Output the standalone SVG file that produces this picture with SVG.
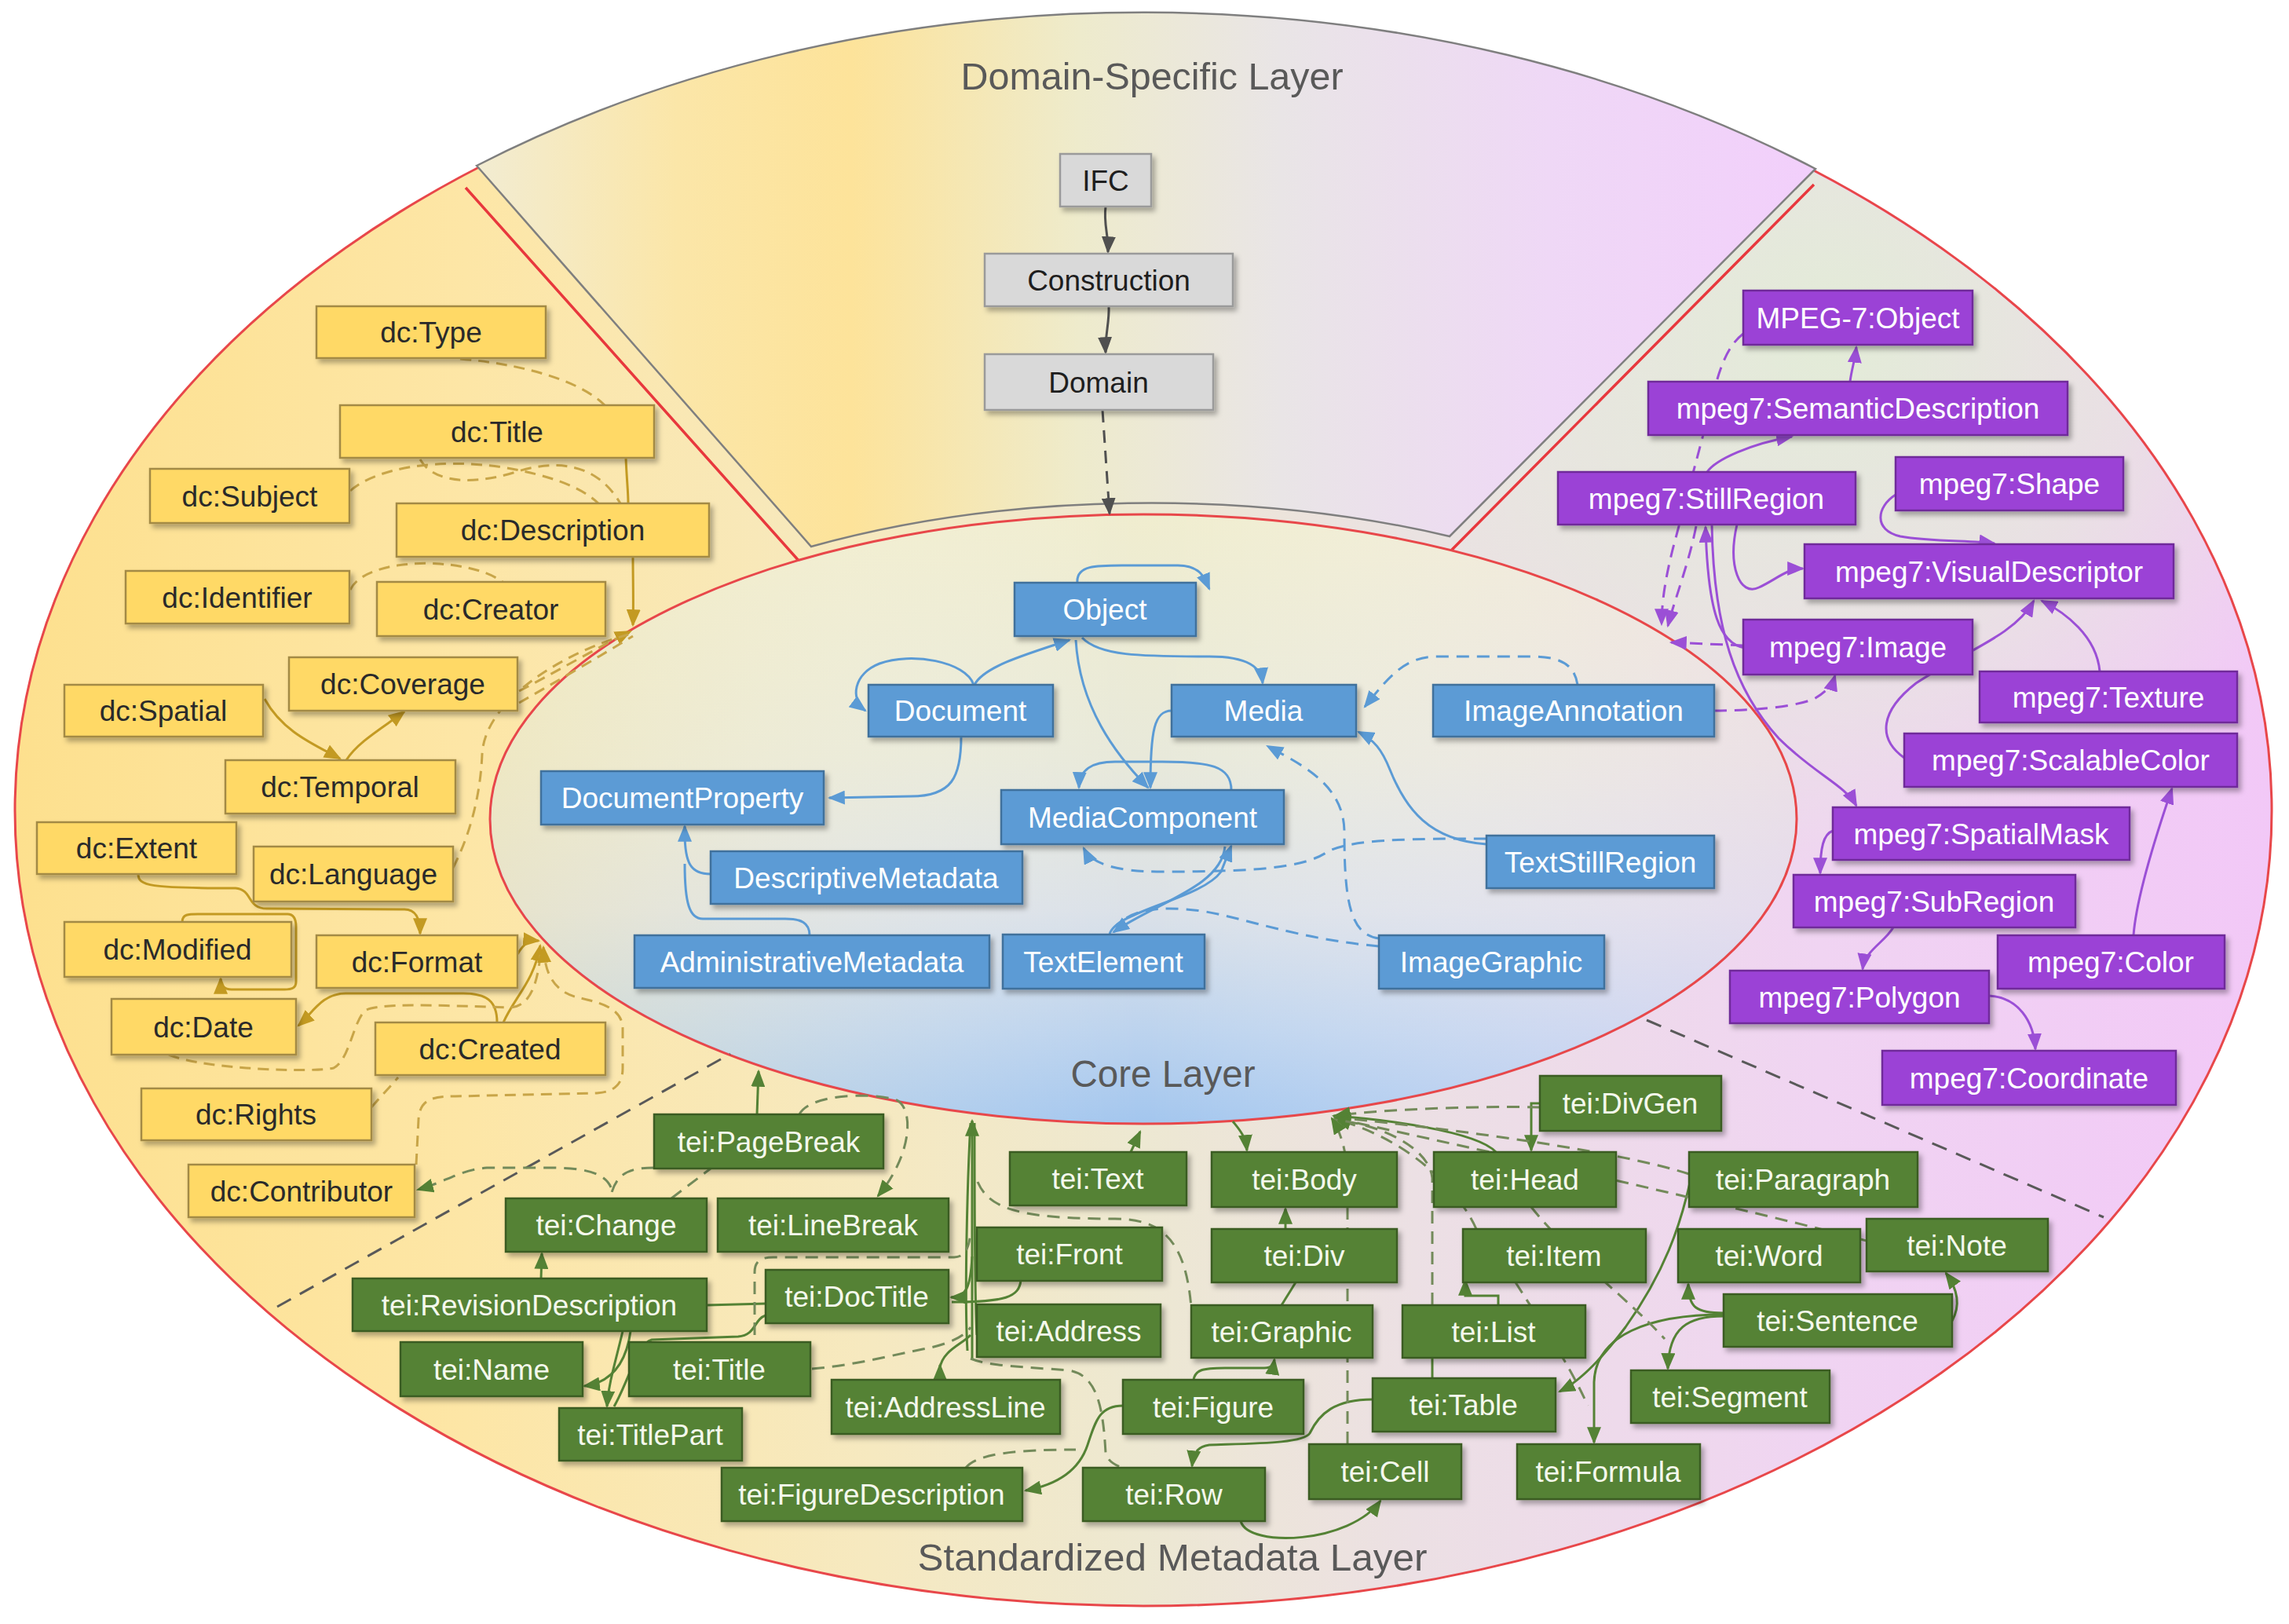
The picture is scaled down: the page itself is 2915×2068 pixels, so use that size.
<svg xmlns="http://www.w3.org/2000/svg" width="2915" height="2068" viewBox="0 0 2915 2068">
<defs>
<linearGradient id="gOuter" gradientUnits="userSpaceOnUse" x1="19" y1="0" x2="2893" y2="0">
<stop offset="0" stop-color="#fde08e"/><stop offset="0.2" stop-color="#fde6a6"/><stop offset="0.38" stop-color="#f6e9c0"/><stop offset="0.5" stop-color="#ede8d2"/><stop offset="0.62" stop-color="#ece0e4"/><stop offset="0.8" stop-color="#f0d4f2"/><stop offset="1" stop-color="#f2c8f7"/>
</linearGradient>
<radialGradient id="gGreen" gradientUnits="userSpaceOnUse" cx="2330" cy="430" r="700">
<stop offset="0" stop-color="#e2edd6" stop-opacity="0.95"/><stop offset="0.55" stop-color="#e4ecd9" stop-opacity="0.6"/><stop offset="1" stop-color="#e4ecd9" stop-opacity="0"/>
</radialGradient>
<linearGradient id="gWedge" gradientUnits="userSpaceOnUse" x1="607" y1="0" x2="2312" y2="0">
<stop offset="0" stop-color="#f2ecd2"/><stop offset="0.15" stop-color="#fbe6a8"/><stop offset="0.28" stop-color="#fde39a"/><stop offset="0.45" stop-color="#eeebcc"/><stop offset="0.6" stop-color="#e9e5e6"/><stop offset="0.8" stop-color="#efd8f6"/><stop offset="1" stop-color="#f2cffb"/>
</linearGradient>
<linearGradient id="gCore" gradientUnits="userSpaceOnUse" x1="0" y1="655" x2="0" y2="1431">
<stop offset="0" stop-color="#f0edcf"/><stop offset="0.4" stop-color="#e8e9da"/><stop offset="0.65" stop-color="#dbe1e8"/><stop offset="0.85" stop-color="#bcd3ee"/><stop offset="1" stop-color="#a3c6ee"/>
</linearGradient>
<linearGradient id="gCoreH" gradientUnits="userSpaceOnUse" x1="624" y1="0" x2="2288" y2="0">
<stop offset="0" stop-color="#f6e6a6" stop-opacity="0.45"/><stop offset="0.5" stop-color="#ffffff" stop-opacity="0"/><stop offset="1" stop-color="#efd6f2" stop-opacity="0.5"/>
</linearGradient>
<filter id="sh" x="-10%" y="-20%" width="130%" height="170%">
<feDropShadow dx="4" dy="5" stdDeviation="3" flood-color="#000" flood-opacity="0.3"/>
</filter>
<marker id="aGold" viewBox="0 0 10 10" refX="9" refY="5" markerWidth="22" markerHeight="18" markerUnits="userSpaceOnUse" orient="auto" preserveAspectRatio="none"><path d="M0,0 L10,5 L0,10 z" fill="#c39a22"/></marker>
<marker id="aBlue" viewBox="0 0 10 10" refX="9" refY="5" markerWidth="22" markerHeight="18" markerUnits="userSpaceOnUse" orient="auto" preserveAspectRatio="none"><path d="M0,0 L10,5 L0,10 z" fill="#5b9bd5"/></marker>
<marker id="aPurple" viewBox="0 0 10 10" refX="9" refY="5" markerWidth="22" markerHeight="18" markerUnits="userSpaceOnUse" orient="auto" preserveAspectRatio="none"><path d="M0,0 L10,5 L0,10 z" fill="#9b4fd6"/></marker>
<marker id="aGreen" viewBox="0 0 10 10" refX="9" refY="5" markerWidth="22" markerHeight="18" markerUnits="userSpaceOnUse" orient="auto" preserveAspectRatio="none"><path d="M0,0 L10,5 L0,10 z" fill="#548235"/></marker>
<marker id="aGray" viewBox="0 0 10 10" refX="9" refY="5" markerWidth="22" markerHeight="18" markerUnits="userSpaceOnUse" orient="auto" preserveAspectRatio="none"><path d="M0,0 L10,5 L0,10 z" fill="#505050"/></marker>
</defs>
<style>
.lbl{font-family:"Liberation Sans",Arial,sans-serif;font-size:48px;fill:#595959;text-anchor:middle}
.n text{font-family:"Liberation Sans",Arial,sans-serif;font-size:37px;text-anchor:middle}
.n rect{stroke-width:2.5;filter:url(#sh)}
.gy rect{fill:#d9d9d9;stroke:#9a9a9a}
.gy text{fill:#1e1e1e}
.y rect{fill:#ffd966;stroke:#a38a45}
.y text{fill:#2a2a2a}
.b rect{fill:#5b9bd5;stroke:#41719c}
.b text{fill:#ffffff}
.p rect{fill:#9b42d6;stroke:#6f2c9a}
.p text{fill:#ffffff}
.t rect{fill:#548235;stroke:#3a5c24}
.t text{fill:#f4f8ec}
.c path{fill:none;stroke-width:3}
.ck{stroke:#505050}
.cg{stroke:#c39a22}
.cgd{stroke:#c8a548;stroke-dasharray:14 9}
.cb{stroke:#5b9bd5}
.cbd{stroke:#5b9bd5;stroke-dasharray:16 10}
.cp{stroke:#9b4fd6}
.cpd{stroke:#9b4fd6;stroke-dasharray:16 10}
.ct{stroke:#548235}
.ctd{stroke:#738a5a;stroke-dasharray:16 10}
.sep{fill:none;stroke:#595959;stroke-width:3;stroke-dasharray:20 13}
</style>
<rect x="0" y="0" width="2915" height="2068" fill="#ffffff"/>
<g id="layers">
<ellipse cx="1456" cy="1032" rx="1437" ry="1013" fill="url(#gOuter)" stroke="#e8474a" stroke-width="3"/>
<ellipse cx="1456" cy="1032" rx="1435" ry="1011" fill="url(#gGreen)"/>
<path d="M593 239 L1019 716 M2310 235 L1846 703" stroke="#e8383d" stroke-width="3.5" fill="none"/>
<path id="domain-layer" d="M607 211 A1440 1016 0 0 1 2312 215 L1846 683 A850 400 0 0 0 1033 696 Z" fill="url(#gWedge)" stroke="#7f7f7f" stroke-width="2.5"/>
<ellipse id="core-layer" cx="1456" cy="1043" rx="832" ry="388" fill="url(#gCore)" stroke="#e8474a" stroke-width="3"/>
<ellipse cx="1456" cy="1043" rx="830" ry="386" fill="url(#gCoreH)"/>
<path class="sep" d="M353 1664 L930 1342"/>
<path class="sep" d="M2097 1299 L2679 1550"/>
<text class="lbl" x="1467" y="114" textLength="487" lengthAdjust="spacingAndGlyphs">Domain-Specific Layer</text>
<text class="lbl" x="1481" y="1384" textLength="235" lengthAdjust="spacingAndGlyphs">Core Layer</text>
<text class="lbl" x="1493" y="2000" textLength="649" lengthAdjust="spacingAndGlyphs">Standardized Metadata Layer</text>
</g>
<g id="connectors" class="c">
<path class="ck" d="M1408 263 C1405 285 1412 300 1411 321" marker-end="url(#aGray)"/>
<path class="ck" d="M1412 390 C1413 410 1407 428 1408 449" marker-end="url(#aGray)"/>
<path class="ck" d="M1404 522 L1413 654" stroke-dasharray="16 10" marker-end="url(#aGray)"/>
<path class="cg" d="M806 709 C806 740 807 770 806 796" marker-end="url(#aGold)"/>
<path class="cg" d="M797 583 C798 610 800 625 800 641"/>
<path class="cg" d="M337 890 C360 932 400 948 433 966" marker-end="url(#aGold)"/>
<path class="cg" d="M441 968 C455 945 490 925 515 906" marker-end="url(#aGold)"/>
<path class="cg" d="M176 1113 C176 1128 190 1131 300 1131 C322 1133 314 1157 340 1157 L515 1158 C530 1158 535 1170 535 1189" marker-end="url(#aGold)"/>
<path class="cg" d="M232 1174 C232 1164 240 1164 252 1164 L366 1164 C374 1164 377 1170 377 1180 L377 1250 C377 1258 372 1260 362 1260 L295 1260 C286 1260 281 1256 281 1246" marker-end="url(#aGold)"/>
<path class="cg" d="M633 1302 C633 1275 620 1265 590 1265 L440 1265 C410 1265 398 1290 380 1306" marker-end="url(#aGold)"/>
<path class="cg" d="M641 1302 C655 1270 680 1250 688 1204" marker-end="url(#aGold)"/>
<path class="cg" d="M659 1215 C668 1200 675 1197 686 1198" marker-end="url(#aGold)"/>
<path class="cgd" d="M586 457 C680 465 745 490 770 516"/>
<path class="cgd" d="M446 625 C480 595 560 583 640 595 C700 605 740 620 762 641"/>
<path class="cgd" d="M535 585 C555 620 615 615 660 600 C710 585 760 590 790 641"/>
<path class="cgd" d="M446 751 C460 722 520 715 560 718 C600 721 625 730 640 741"/>
<path class="cgd" d="M661 880 C700 860 760 825 803 804" marker-end="url(#aGold)"/>
<path class="cgd" d="M661 895 C705 870 765 835 806 810"/>
<path class="cgd" d="M577 1105 C600 1060 612 1010 614 960 C618 890 720 830 800 808"/>
<path class="cgd" d="M215 1343 C260 1362 400 1366 425 1360 C445 1350 450 1300 465 1287 C480 1275 600 1282 650 1283 C680 1281 686 1240 689 1208"/>
<path class="cgd" d="M473 1410 C485 1396 495 1386 507 1372"/>
<path class="cgd" d="M530 1483 L533 1425 C535 1400 550 1396 580 1396 L760 1392 C788 1390 793 1375 793 1360 L793 1310 C793 1282 760 1276 735 1270 C705 1262 694 1240 692 1206" marker-end="url(#aGold)"/>
<path class="cb" d="M1372 742 C1370 718 1400 720 1440 720 L1500 720 C1530 720 1535 738 1540 750" marker-end="url(#aBlue)"/>
<path class="cb" d="M1241 872 C1252 850 1300 835 1362 815" marker-end="url(#aBlue)"/>
<path class="cb" d="M1240 872 C1230 842 1160 830 1120 845 C1087 858 1082 890 1102 905" marker-end="url(#aBlue)"/>
<path class="cb" d="M1224 938 C1224 990 1212 1014 1160 1014 L1056 1016" marker-end="url(#aBlue)"/>
<path class="cb" d="M1378 812 C1400 835 1450 836 1540 836 C1590 836 1606 850 1608 870" marker-end="url(#aBlue)"/>
<path class="cb" d="M1370 815 C1375 900 1420 960 1462 1003" marker-end="url(#aBlue)"/>
<path class="cb" d="M1492 905 C1470 905 1465 930 1465 1003" marker-end="url(#aBlue)"/>
<path class="cb" d="M1568 1006 C1568 975 1540 970 1480 970 L1420 970 C1390 970 1375 980 1374 1003" marker-end="url(#aBlue)"/>
<path class="cb" d="M1413 1190 C1420 1160 1530 1145 1555 1110 L1568 1077" marker-end="url(#aBlue)"/>
<path class="cb" d="M1560 1078 C1555 1130 1470 1150 1418 1187" marker-end="url(#aBlue)"/>
<path class="cb" d="M1893 1075 C1820 1070 1790 1030 1770 980 C1760 955 1750 942 1730 932" marker-end="url(#aBlue)"/>
<path class="cb" d="M905 1113 C880 1113 872 1100 872 1060 L872 1052" marker-end="url(#aBlue)"/>
<path class="cb" d="M1031 1191 C1031 1175 1020 1170 1000 1170 L895 1170 C878 1170 872 1150 872 1100"/>
<path class="cbd" d="M2009 872 C2005 845 1985 836 1950 836 L1830 836 C1790 836 1770 860 1738 900" marker-end="url(#aBlue)"/>
<path class="cbd" d="M1893 1068 C1800 1068 1720 1068 1690 1085 C1660 1105 1600 1110 1480 1110 C1420 1110 1390 1100 1380 1080" marker-end="url(#aBlue)"/>
<path class="cbd" d="M1756 1195 C1720 1190 1712 1150 1712 1060 C1712 1000 1660 975 1614 950" marker-end="url(#aBlue)"/>
<path class="cbd" d="M1756 1205 C1650 1195 1590 1170 1530 1160 C1470 1152 1440 1160 1420 1180"/>
<path class="cp" d="M2356 486 C2358 470 2362 460 2364 442" marker-end="url(#aPurple)"/>
<path class="cp" d="M2174 601 C2185 585 2230 565 2282 556" marker-end="url(#aPurple)"/>
<path class="cp" d="M2222 825 C2190 820 2175 780 2172 671" marker-end="url(#aPurple)"/>
<path class="cp" d="M2180 668 C2182 800 2210 880 2265 940 C2310 985 2350 1000 2364 1026" marker-end="url(#aPurple)"/>
<path class="cp" d="M2212 668 C2200 720 2215 760 2240 748 C2262 738 2275 724 2296 724" marker-end="url(#aPurple)"/>
<path class="cp" d="M2414 630 C2390 645 2385 675 2420 683 C2460 690 2510 688 2540 692" marker-end="url(#aPurple)"/>
<path class="cp" d="M2674 855 C2670 810 2630 780 2600 765" marker-end="url(#aPurple)"/>
<path class="cp" d="M2425 965 C2390 940 2395 905 2440 870 C2500 830 2565 810 2590 765" marker-end="url(#aPurple)"/>
<path class="cp" d="M2717 1191 C2720 1150 2740 1080 2766 1004" marker-end="url(#aPurple)"/>
<path class="cp" d="M2334 1058 C2322 1062 2318 1080 2318 1112" marker-end="url(#aPurple)"/>
<path class="cp" d="M2411 1181 C2400 1200 2375 1210 2372 1234" marker-end="url(#aPurple)"/>
<path class="cp" d="M2533 1268 C2570 1270 2590 1300 2592 1336" marker-end="url(#aPurple)"/>
<path class="cpd" d="M2220 425 C2200 440 2188 470 2178 520 L2130 700 C2120 740 2116 770 2116 795" marker-end="url(#aPurple)"/>
<path class="cpd" d="M2160 670 C2150 720 2132 765 2124 797" marker-end="url(#aPurple)"/>
<path class="cpd" d="M2220 822 L2128 818" marker-end="url(#aPurple)"/>
<path class="cpd" d="M2183 905 C2220 905 2280 902 2310 890 C2328 880 2334 870 2337 860" marker-end="url(#aPurple)"/>
<path class="ct" d="M964 1419 L966 1364" marker-end="url(#aGreen)"/>
<path class="ct" d="M689 1628 L690 1596" marker-end="url(#aGreen)"/>
<path class="ct" d="M900 1662 L975 1660"/>
<path class="ct" d="M793 1695 C785 1730 775 1760 773 1791" marker-end="url(#aGreen)"/>
<path class="ct" d="M803 1695 C798 1732 782 1760 744 1765" marker-end="url(#aGreen)"/>
<path class="ct" d="M975 1675 C960 1680 963 1700 940 1702 L830 1706 C812 1710 800 1760 782 1791"/>
<path class="ct" d="M1238 1730 L1238 1427" marker-end="url(#aGreen)"/>
<path class="ct" d="M1232 1720 C1228 1650 1232 1500 1236 1430"/>
<path class="ct" d="M1244 1700 C1241 1650 1241 1500 1241 1430"/>
<path class="ct" d="M1238 1600 C1236 1640 1230 1652 1211 1652" marker-end="url(#aGreen)"/>
<path class="ct" d="M1300 1630 C1298 1652 1280 1658 1212 1658"/>
<path class="ct" d="M1197 1760 L1197 1738" marker-end="url(#aGreen)"/>
<path class="ct" d="M1197 1742 C1200 1720 1225 1712 1236 1700"/>
<path class="ct" d="M1430 1790 C1400 1790 1395 1810 1385 1840 C1375 1870 1350 1890 1306 1898" marker-end="url(#aGreen)"/>
<path class="ct" d="M1440 1467 L1452 1441" marker-end="url(#aGreen)"/>
<path class="ct" d="M1570 1428 C1578 1438 1586 1446 1588 1465" marker-end="url(#aGreen)"/>
<path class="ct" d="M1961 1405 L1950 1405 L1950 1465" marker-end="url(#aGreen)"/>
<path class="ct" d="M1905 1467 C1880 1440 1760 1425 1698 1421" marker-end="url(#aGreen)"/>
<path class="ct" d="M2152 1506 C2140 1560 2120 1620 2070 1690 C2040 1730 2010 1760 1986 1772" marker-end="url(#aGreen)"/>
<path class="ct" d="M2195 1672 C2160 1672 2150 1665 2150 1635" marker-end="url(#aGreen)"/>
<path class="ct" d="M2195 1676 C2150 1676 2125 1690 2124 1743" marker-end="url(#aGreen)"/>
<path class="ct" d="M2195 1674 C2100 1674 2032 1700 2030 1760 L2030 1837" marker-end="url(#aGreen)"/>
<path class="ct" d="M2486 1682 C2498 1660 2492 1640 2478 1621" marker-end="url(#aGreen)"/>
<path class="ct" d="M1637 1565 L1637 1539" marker-end="url(#aGreen)"/>
<path class="ct" d="M1632 1662 L1650 1633"/>
<path class="ct" d="M1520 1757 C1522 1745 1530 1742 1560 1742 L1610 1742 C1620 1742 1622 1738 1623 1731" marker-end="url(#aGreen)"/>
<path class="ct" d="M1748 1782 C1700 1782 1680 1800 1668 1825 C1660 1838 1600 1838 1540 1840 C1525 1842 1520 1850 1518 1867" marker-end="url(#aGreen)"/>
<path class="ct" d="M1580 1937 C1590 1972 1720 1965 1758 1911" marker-end="url(#aGreen)"/>
<path class="ct" d="M1824 1755 L1824 1729"/>
<path class="ct" d="M1908 1662 L1908 1650 L1866 1650 L1866 1630" marker-end="url(#aGreen)"/>
<path class="ctd" d="M833 1487 C800 1487 785 1495 778 1522"/>
<path class="ctd" d="M778 1512 C770 1492 740 1487 700 1487 L620 1487 C585 1490 568 1505 532 1515" marker-end="url(#aGreen)"/>
<path class="ctd" d="M855 1526 L905 1488"/>
<path class="ctd" d="M1018 1419 C1030 1395 1100 1390 1140 1400 C1165 1410 1162 1470 1118 1523" marker-end="url(#aGreen)"/>
<path class="ctd" d="M961 1700 L961 1620 C961 1605 970 1601 985 1601 L1215 1601 C1228 1601 1234 1590 1236 1570"/>
<path class="ctd" d="M1034 1743 C1080 1740 1140 1725 1175 1718 C1210 1712 1230 1700 1236 1690"/>
<path class="ctd" d="M1236 1730 C1260 1740 1300 1740 1360 1745 C1400 1750 1405 1800 1408 1850 C1410 1860 1420 1866 1430 1869"/>
<path class="ctd" d="M1230 1869 C1245 1850 1300 1846 1370 1846"/>
<path class="ctd" d="M1245 1505 C1260 1540 1300 1552 1420 1552 C1480 1552 1510 1580 1517 1665"/>
<path class="ctd" d="M1961 1410 C1900 1408 1760 1412 1700 1421" marker-end="url(#aGreen)"/>
<path class="ctd" d="M2151 1495 C2050 1462 1800 1432 1700 1423" marker-end="url(#aGreen)"/>
<path class="ctd" d="M2377 1580 C2300 1560 2100 1510 1700 1424" marker-end="url(#aGreen)"/>
<path class="ctd" d="M1880 1565 C1860 1520 1800 1452 1700 1425" marker-end="url(#aGreen)"/>
<path class="ctd" d="M1824 1662 L1824 1500 C1820 1462 1760 1432 1700 1426"/>
<path class="ctd" d="M1716 1839 L1716 1500 C1715 1462 1706 1440 1696 1424" marker-end="url(#aGreen)"/>
<path class="ctd" d="M1950 1537 C2000 1600 2080 1660 2120 1705"/>
<path class="ctd" d="M1930 1633 C1960 1680 2000 1740 2022 1790"/>
</g>
<g id="nodes">
<g id="n-ifc" class="n gy"><rect x="1350" y="196" width="116" height="67"/><text x="1408" y="243">IFC</text></g>
<g id="n-construction" class="n gy"><rect x="1254" y="323" width="316" height="67"/><text x="1412" y="370">Construction</text></g>
<g id="n-domain" class="n gy"><rect x="1254" y="451" width="291" height="71"/><text x="1399" y="500">Domain</text></g>
<g id="n-dc-type" class="n y"><rect x="403" y="390" width="292" height="66"/><text x="549" y="436">dc:Type</text></g>
<g id="n-dc-title" class="n y"><rect x="433" y="516" width="400" height="67"/><text x="633" y="563">dc:Title</text></g>
<g id="n-dc-subject" class="n y"><rect x="191" y="597" width="254" height="69"/><text x="318" y="645">dc:Subject</text></g>
<g id="n-dc-description" class="n y"><rect x="505" y="641" width="398" height="68"/><text x="704" y="688">dc:Description</text></g>
<g id="n-dc-identifier" class="n y"><rect x="160" y="727" width="285" height="67"/><text x="302" y="774">dc:Identifier</text></g>
<g id="n-dc-creator" class="n y"><rect x="480" y="741" width="291" height="69"/><text x="625" y="789">dc:Creator</text></g>
<g id="n-dc-coverage" class="n y"><rect x="368" y="837" width="291" height="68"/><text x="513" y="884">dc:Coverage</text></g>
<g id="n-dc-spatial" class="n y"><rect x="82" y="872" width="253" height="66"/><text x="208" y="918">dc:Spatial</text></g>
<g id="n-dc-temporal" class="n y"><rect x="287" y="968" width="293" height="68"/><text x="433" y="1015">dc:Temporal</text></g>
<g id="n-dc-extent" class="n y"><rect x="47" y="1047" width="254" height="66"/><text x="174" y="1093">dc:Extent</text></g>
<g id="n-dc-language" class="n y"><rect x="323" y="1078" width="254" height="70"/><text x="450" y="1126">dc:Language</text></g>
<g id="n-dc-modified" class="n y"><rect x="82" y="1174" width="289" height="70"/><text x="226" y="1222">dc:Modified</text></g>
<g id="n-dc-format" class="n y"><rect x="403" y="1191" width="256" height="67"/><text x="531" y="1238">dc:Format</text></g>
<g id="n-dc-date" class="n y"><rect x="142" y="1272" width="235" height="71"/><text x="259" y="1321">dc:Date</text></g>
<g id="n-dc-created" class="n y"><rect x="478" y="1302" width="293" height="67"/><text x="624" y="1349">dc:Created</text></g>
<g id="n-dc-rights" class="n y"><rect x="180" y="1386" width="293" height="66"/><text x="326" y="1432">dc:Rights</text></g>
<g id="n-dc-contributor" class="n y"><rect x="240" y="1483" width="288" height="67"/><text x="384" y="1530">dc:Contributor</text></g>
<g id="n-object" class="n b"><rect x="1292" y="742" width="231" height="68"/><text x="1407" y="789">Object</text></g>
<g id="n-document" class="n b"><rect x="1106" y="872" width="235" height="66"/><text x="1223" y="918">Document</text></g>
<g id="n-media" class="n b"><rect x="1492" y="872" width="235" height="66"/><text x="1609" y="918">Media</text></g>
<g id="n-imageannotation" class="n b"><rect x="1825" y="872" width="358" height="66"/><text x="2004" y="918">ImageAnnotation</text></g>
<g id="n-documentproperty" class="n b"><rect x="689" y="982" width="360" height="68"/><text x="869" y="1029">DocumentProperty</text></g>
<g id="n-mediacomponent" class="n b"><rect x="1275" y="1006" width="360" height="69"/><text x="1455" y="1054">MediaComponent</text></g>
<g id="n-descriptivemetadata" class="n b"><rect x="905" y="1084" width="397" height="67"/><text x="1103" y="1131">DescriptiveMetadata</text></g>
<g id="n-administrativemetadata" class="n b"><rect x="808" y="1191" width="452" height="67"/><text x="1034" y="1238">AdministrativeMetadata</text></g>
<g id="n-textelement" class="n b"><rect x="1277" y="1190" width="257" height="69"/><text x="1405" y="1238">TextElement</text></g>
<g id="n-textstillregion" class="n b"><rect x="1893" y="1064" width="290" height="67"/><text x="2038" y="1111">TextStillRegion</text></g>
<g id="n-imagegraphic" class="n b"><rect x="1756" y="1191" width="287" height="68"/><text x="1899" y="1238">ImageGraphic</text></g>
<g id="n-mpeg7-object" class="n p"><rect x="2220" y="370" width="292" height="69"/><text x="2366" y="418">MPEG-7:Object</text></g>
<g id="n-mpeg7-semanticdescription" class="n p"><rect x="2099" y="486" width="534" height="68"/><text x="2366" y="533">mpeg7:SemanticDescription</text></g>
<g id="n-mpeg7-stillregion" class="n p"><rect x="1984" y="601" width="379" height="67"/><text x="2173" y="648">mpeg7:StillRegion</text></g>
<g id="n-mpeg7-shape" class="n p"><rect x="2414" y="582" width="290" height="68"/><text x="2559" y="629">mpeg7:Shape</text></g>
<g id="n-mpeg7-visualdescriptor" class="n p"><rect x="2298" y="693" width="470" height="69"/><text x="2533" y="741">mpeg7:VisualDescriptor</text></g>
<g id="n-mpeg7-image" class="n p"><rect x="2220" y="789" width="292" height="70"/><text x="2366" y="837">mpeg7:Image</text></g>
<g id="n-mpeg7-texture" class="n p"><rect x="2521" y="855" width="328" height="65"/><text x="2685" y="901">mpeg7:Texture</text></g>
<g id="n-mpeg7-scalablecolor" class="n p"><rect x="2425" y="934" width="424" height="68"/><text x="2637" y="981">mpeg7:ScalableColor</text></g>
<g id="n-mpeg7-spatialmask" class="n p"><rect x="2334" y="1028" width="378" height="67"/><text x="2523" y="1075">mpeg7:SpatialMask</text></g>
<g id="n-mpeg7-subregion" class="n p"><rect x="2284" y="1114" width="359" height="67"/><text x="2463" y="1161">mpeg7:SubRegion</text></g>
<g id="n-mpeg7-color" class="n p"><rect x="2544" y="1191" width="289" height="68"/><text x="2688" y="1238">mpeg7:Color</text></g>
<g id="n-mpeg7-polygon" class="n p"><rect x="2203" y="1236" width="330" height="67"/><text x="2368" y="1283">mpeg7:Polygon</text></g>
<g id="n-mpeg7-coordinate" class="n p"><rect x="2397" y="1338" width="374" height="69"/><text x="2584" y="1386">mpeg7:Coordinate</text></g>
<g id="n-tei-pagebreak" class="n t"><rect x="833" y="1419" width="292" height="69"/><text x="979" y="1467">tei:PageBreak</text></g>
<g id="n-tei-change" class="n t"><rect x="644" y="1526" width="256" height="68"/><text x="772" y="1573">tei:Change</text></g>
<g id="n-tei-linebreak" class="n t"><rect x="914" y="1526" width="294" height="68"/><text x="1061" y="1573">tei:LineBreak</text></g>
<g id="n-tei-revisiondescription" class="n t"><rect x="449" y="1628" width="451" height="67"/><text x="674" y="1675">tei:RevisionDescription</text></g>
<g id="n-tei-doctitle" class="n t"><rect x="975" y="1617" width="233" height="68"/><text x="1091" y="1664">tei:DocTitle</text></g>
<g id="n-tei-name" class="n t"><rect x="510" y="1709" width="232" height="69"/><text x="626" y="1757">tei:Name</text></g>
<g id="n-tei-title" class="n t"><rect x="801" y="1709" width="231" height="69"/><text x="916" y="1757">tei:Title</text></g>
<g id="n-tei-titlepart" class="n t"><rect x="712" y="1793" width="233" height="67"/><text x="828" y="1840">tei:TitlePart</text></g>
<g id="n-tei-addressline" class="n t"><rect x="1059" y="1757" width="291" height="69"/><text x="1204" y="1805">tei:AddressLine</text></g>
<g id="n-tei-figuredescription" class="n t"><rect x="919" y="1869" width="383" height="68"/><text x="1110" y="1916">tei:FigureDescription</text></g>
<g id="n-tei-text" class="n t"><rect x="1286" y="1467" width="225" height="68"/><text x="1398" y="1514">tei:Text</text></g>
<g id="n-tei-front" class="n t"><rect x="1244" y="1563" width="236" height="68"/><text x="1362" y="1610">tei:Front</text></g>
<g id="n-tei-address" class="n t"><rect x="1244" y="1661" width="234" height="67"/><text x="1361" y="1708">tei:Address</text></g>
<g id="n-tei-figure" class="n t"><rect x="1430" y="1757" width="230" height="69"/><text x="1545" y="1805">tei:Figure</text></g>
<g id="n-tei-row" class="n t"><rect x="1379" y="1869" width="232" height="68"/><text x="1495" y="1916">tei:Row</text></g>
<g id="n-tei-body" class="n t"><rect x="1543" y="1467" width="236" height="70"/><text x="1661" y="1515">tei:Body</text></g>
<g id="n-tei-div" class="n t"><rect x="1543" y="1565" width="236" height="68"/><text x="1661" y="1612">tei:Div</text></g>
<g id="n-tei-graphic" class="n t"><rect x="1517" y="1662" width="231" height="67"/><text x="1632" y="1709">tei:Graphic</text></g>
<g id="n-tei-head" class="n t"><rect x="1826" y="1467" width="232" height="70"/><text x="1942" y="1515">tei:Head</text></g>
<g id="n-tei-divgen" class="n t"><rect x="1961" y="1370" width="231" height="70"/><text x="2076" y="1418">tei:DivGen</text></g>
<g id="n-tei-item" class="n t"><rect x="1863" y="1565" width="233" height="68"/><text x="1979" y="1612">tei:Item</text></g>
<g id="n-tei-list" class="n t"><rect x="1786" y="1662" width="233" height="67"/><text x="1902" y="1709">tei:List</text></g>
<g id="n-tei-table" class="n t"><rect x="1748" y="1755" width="233" height="68"/><text x="1864" y="1802">tei:Table</text></g>
<g id="n-tei-cell" class="n t"><rect x="1667" y="1839" width="194" height="70"/><text x="1764" y="1887">tei:Cell</text></g>
<g id="n-tei-paragraph" class="n t"><rect x="2151" y="1467" width="291" height="70"/><text x="2296" y="1515">tei:Paragraph</text></g>
<g id="n-tei-word" class="n t"><rect x="2137" y="1565" width="232" height="68"/><text x="2253" y="1612">tei:Word</text></g>
<g id="n-tei-note" class="n t"><rect x="2377" y="1552" width="231" height="67"/><text x="2492" y="1599">tei:Note</text></g>
<g id="n-tei-sentence" class="n t"><rect x="2195" y="1648" width="291" height="67"/><text x="2340" y="1695">tei:Sentence</text></g>
<g id="n-tei-segment" class="n t"><rect x="2077" y="1745" width="253" height="67"/><text x="2203" y="1792">tei:Segment</text></g>
<g id="n-tei-formula" class="n t"><rect x="1932" y="1839" width="233" height="70"/><text x="2048" y="1887">tei:Formula</text></g>
</g>
</svg>
